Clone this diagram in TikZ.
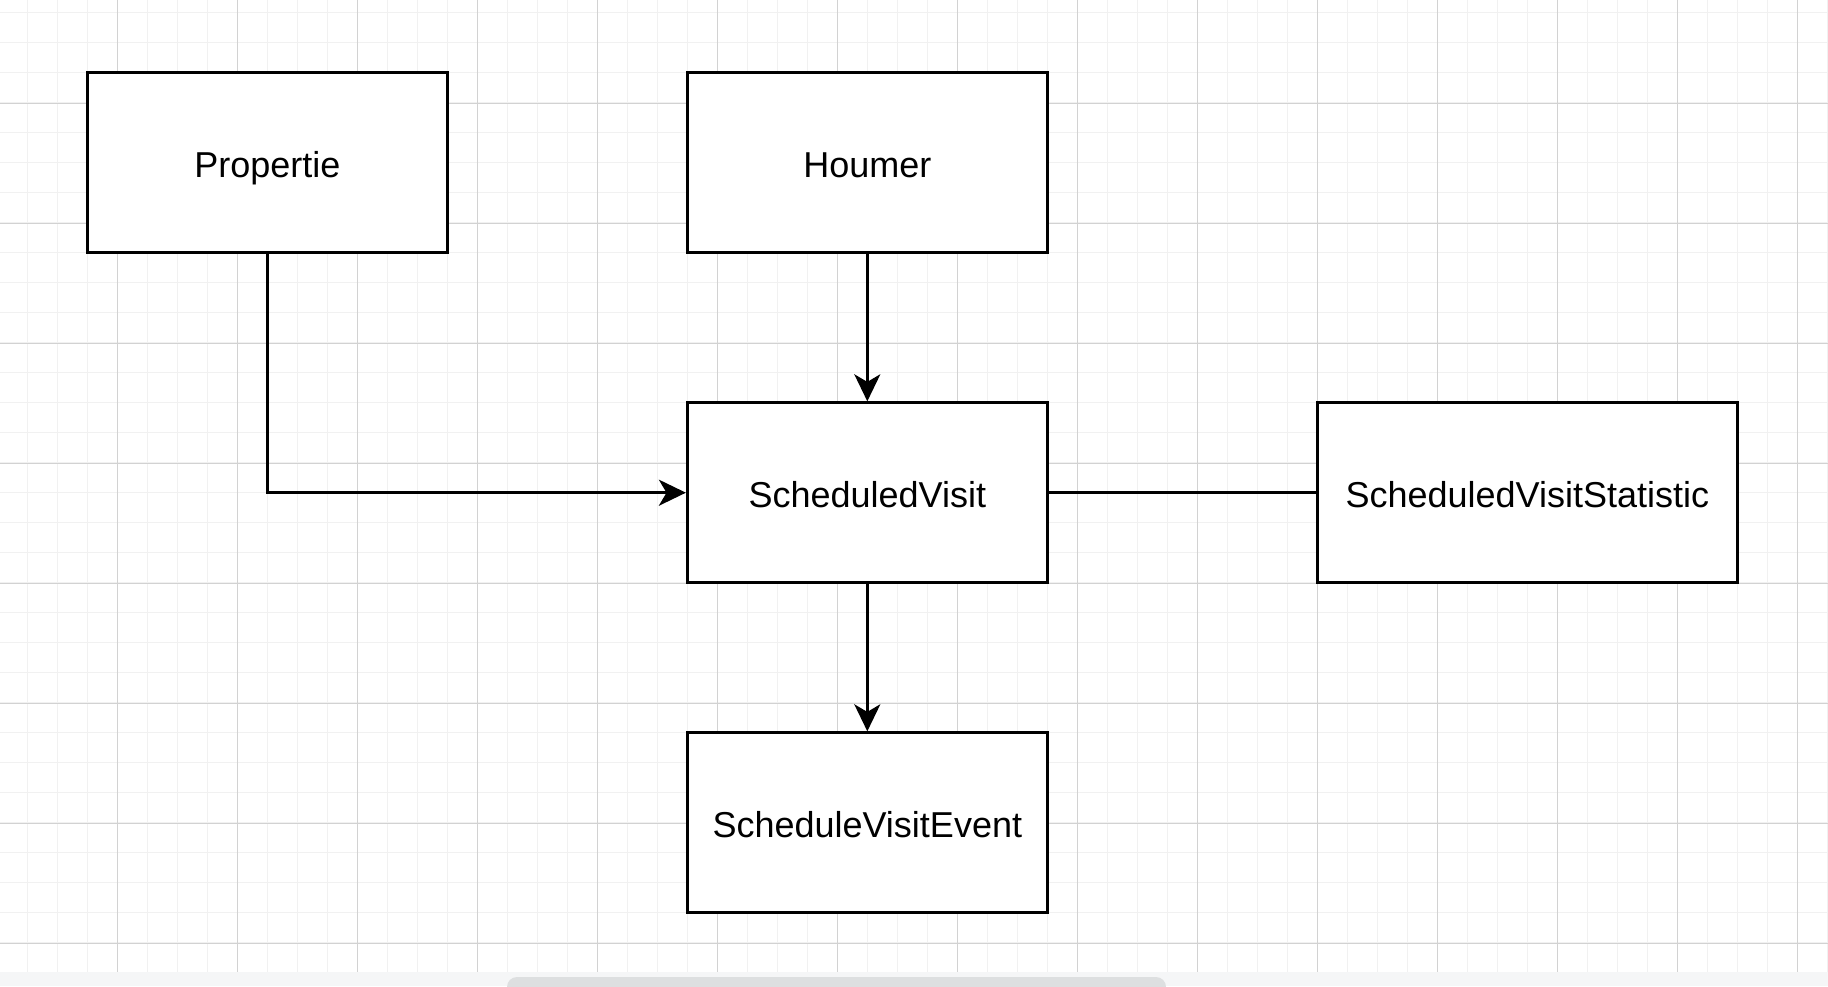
\documentclass[tikz,border=0pt]{standalone}
\usepackage{fontspec}
\setmainfont{Liberation Sans}
\usetikzlibrary{arrows.meta}
\definecolor{gridminor}{HTML}{F1F1F1}
\definecolor{gridmajor}{HTML}{D2D2D2}
\definecolor{stripbg}{HTML}{F5F6F7}
\definecolor{scrollbar}{HTML}{DDDFE0}
\tikzset{
  entity/.style={draw=black, fill=white, line width=0.7pt, rectangle,
    minimum height=45pt, inner sep=0pt, text height=7.25pt, text depth=0pt,
    font=\fontsize{9pt}{10.8pt}\selectfont},
  connector/.style={draw=black, line width=0.7pt},
  arrowconn/.style={connector, -{Stealth[length=6.75pt, width=6.5pt, inset=1.9pt]}},
}
\begin{document}
\begin{tikzpicture}[x=0.25pt, y=-0.25pt]
\useasboundingbox (0,0) rectangle (1828,986);
\fill[white] (0,0) rectangle (1828,986);
% grid
\foreach \i in {0,...,60}
  \draw[gridminor, line width=0.25pt] ({27.3+30*\i},0) -- ({27.3+30*\i},972.3);
\foreach \i in {0,...,32}
  \draw[gridminor, line width=0.25pt] (0,{12.7+30*\i}) -- (1828,{12.7+30*\i});
\foreach \i in {0,...,14}
  \draw[gridmajor, line width=0.25pt] ({117.3+120*\i},0) -- ({117.3+120*\i},972.3);
\foreach \i in {0,...,7}
  \draw[gridmajor, line width=0.25pt] (0,{103.3+120*\i}) -- (1828,{103.3+120*\i});
% bottom strip and scrollbar
\begin{scope}
\clip (0,0) rectangle (1828,986);
\fill[stripbg] (0,972.3) rectangle (1828,986);
\fill[scrollbar, rounded corners=2.5pt] (507,977) rectangle (1166,1000);
\end{scope}
% nodes
\node[entity, minimum width=90pt] (prop) at (267.3,162.7) {Propertie};
\node[entity, minimum width=90pt] (houm) at (867.3,162.7) {Houmer};
\node[entity, minimum width=90pt] (sv) at (867.3,492.7) {ScheduledVisit};
\node[entity, minimum width=105pt] (stat) at (1527.3,492.7) {ScheduledVisitStatistic};
\node[entity, minimum width=90pt] (ev) at (867.3,822.7) {ScheduleVisitEvent};
% connectors
\draw[arrowconn] (prop.south) |- (sv.west);
\draw[arrowconn] (houm.south) -- (sv.north);
\draw[connector] (sv.east) -- (stat.west);
\draw[arrowconn] (sv.south) -- (ev.north);
\end{tikzpicture}
\end{document}
